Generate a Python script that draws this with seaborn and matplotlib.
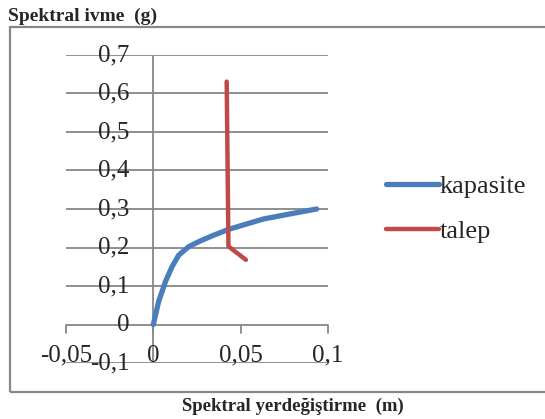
import numpy as np
import pandas as pd
import matplotlib
matplotlib.use("Agg")
import matplotlib.pyplot as plt
import matplotlib.transforms as mtransforms
from matplotlib.patches import Rectangle
from matplotlib.lines import Line2D
import seaborn as sns

# Capacity curve (spectral displacement m, spectral acceleration g)
kapasite_x = [0.0, 0.0030, 0.0069, 0.0107, 0.0145, 0.0202, 0.0259, 0.0335,
              0.0430, 0.0526, 0.0630, 0.0780, 0.0935]
kapasite_y = [0.0, 0.059, 0.111, 0.150, 0.180, 0.202, 0.215, 0.230,
              0.247, 0.260, 0.274, 0.287, 0.300]

# Demand curve
talep_x = [0.042, 0.043, 0.053]
talep_y = [0.631, 0.203, 0.168]

x_ticks = [-0.05, 0.0, 0.05, 0.1]
x_tick_labels = ["-0,05", "0", "0,05", "0,1"]
y_ticks = [-0.1, 0.0, 0.1, 0.2, 0.3, 0.4, 0.5, 0.6, 0.7]
y_tick_labels = ["-0,1", "0", "0,1", "0,2", "0,3", "0,4", "0,5", "0,6", "0,7"]

df = pd.concat([
    pd.DataFrame({"x": kapasite_x, "y": kapasite_y, "seri": "kapasite"}),
    pd.DataFrame({"x": talep_x, "y": talep_y, "seri": "talep"}),
], ignore_index=True)

sns.set_theme(style="white")
plt.rcParams["font.family"] = ["Liberation Serif", "DejaVu Serif"]

W, H = 545, 419
fig = plt.figure(figsize=(W / 100, H / 100), dpi=100)
ax = fig.add_axes([66 / W, 1 - 363 / H, (328 - 66) / W, (363 - 55) / H])

grid_c = "#878787"
blue = "#4A7EBB"
red = "#BE4B48"

ax.set_xlim(-0.05, 0.1)
ax.set_ylim(-0.1, 0.7)
for s in ax.spines.values():
    s.set_visible(False)
ax.set_xticks([])
ax.set_yticks([])

# horizontal gridlines
for v in y_ticks:
    ax.axhline(v, color=grid_c, lw=1.3, zorder=1)
# axes through the origin
ax.axvline(0, color=grid_c, lw=1.3, zorder=1)
tick_len = 8 / (363 - 55) * 0.8
for v in x_ticks:
    ax.plot([v, v], [0, -tick_len], color=grid_c, lw=1.3, zorder=1, clip_on=False)

sns.lineplot(data=df, x="x", y="y", hue="seri", sort=False, estimator=None,
             palette={"kapasite": blue, "talep": red}, ax=ax, legend=False,
             zorder=3)
ax.lines[-2].set_linewidth(3.8)
ax.lines[-1].set_linewidth(3.2)
for ln in ax.lines[-2:]:
    ln.set_solid_capstyle("round")
    ln.set_solid_joinstyle("round")

fs = 18
# y tick labels placed next to the vertical axis at x = 0
for v, lab in zip(y_ticks, y_tick_labels):
    tr = mtransforms.offset_copy(ax.transData, fig=fig, x=-24, y=0, units="dots")
    ax.text(0, v, lab, transform=tr, ha="right", va="center", fontsize=fs, zorder=2)
# x tick labels placed under the horizontal axis at y = 0
for v, lab in zip(x_ticks, x_tick_labels):
    tr = mtransforms.offset_copy(ax.transData, fig=fig, x=0, y=-31, units="dots")
    ax.text(v, 0, lab, transform=tr, ha="center", va="center", fontsize=fs, zorder=2)

# legend
handles = [Line2D([], [], color=blue, lw=3.8, solid_capstyle="round"),
           Line2D([], [], color=red, lw=3.2, solid_capstyle="round")]
fig.legend(handles, ["kapasite", "talep"], loc="center left",
           bbox_to_anchor=(362 / W, 1 - 209 / H), frameon=False, fontsize=19,
           handlelength=2.0, handletextpad=0.05, labelspacing=0.8)

# axis titles
fig.text(8 / W, 1 - 16 / H, "Spektral ivme  (g)", fontsize=14, fontweight="bold",
         ha="left", va="center")
fig.text(293 / W, 1 - 406 / H, "Spektral yerdeğiştirme  (m)", fontsize=13.5,
         fontweight="bold", ha="center", va="center")

# chart frame
fig.patches.append(Rectangle((10 / W, 1 - 392 / H), (W + 10) / W, (392 - 27) / H,
                             transform=fig.transFigure, fill=False,
                             edgecolor=grid_c, lw=1.6, clip_on=False))

fig.savefig("out.png", dpi=100)
